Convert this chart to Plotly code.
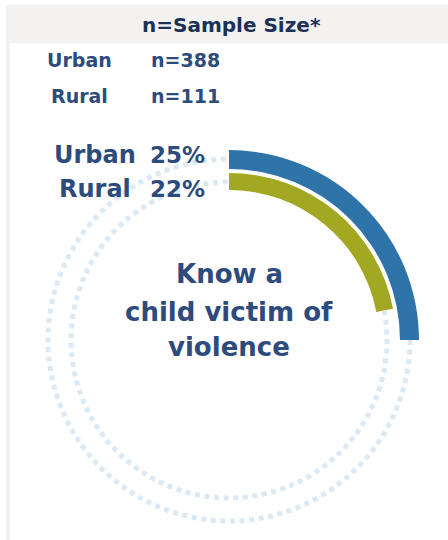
import plotly.graph_objects as go

# ---- data ----
groups = ["Urban", "Rural"]
percents = [25, 22]
sample_sizes = [388, 111]
header = "n=Sample Size*"
center_label = ["Know a", "child victim of", "violence"]

# ---- styles ----
bar_colors = ["#2e74a9", "#a2a822"]
ring_color = "#dbe9f5"
navy = "#1b3158"
navy2 = "#2d4b7c"
bg_gray = "#f3f2f0"
FONT = "DejaVu Sans"

bases = [171, 150]       # inner radius of each arc
thick = [19, 17]         # thickness of each arc
rings = [181, 158]       # dotted ring radii

fig = go.Figure()

# dotted rings (drawn over the part of the circle not covered by the arcs)
for rr, p in zip(rings, percents):
    start = p * 360 / 100
    th = [start + (360 - start) * i / 400 for i in range(401)]
    fig.add_trace(go.Scatterpolar(
        r=[rr] * len(th), theta=th, mode="lines",
        line=dict(color=ring_color, width=5, dash="5px,4.6px"),
        hoverinfo="skip", showlegend=False))

# arcs
for g, p, b, t, c in zip(groups, percents, bases, thick, bar_colors):
    deg = p * 360 / 100
    fig.add_trace(go.Barpolar(
        r=[t], base=[b], theta=[deg / 2], width=[deg],
        marker=dict(color=c, line=dict(width=0)),
        name=g, showlegend=False, hoverinfo="skip"))

fig.update_layout(
    width=448, height=540,
    margin=dict(l=0, r=0, t=0, b=0),
    paper_bgcolor="white",
    plot_bgcolor="white",
    polar=dict(
        domain=dict(x=[29 / 448, 429 / 448], y=[0, 400 / 540]),
        bgcolor="rgba(0,0,0,0)",
        radialaxis=dict(range=[0, 200], visible=False, showgrid=False),
        angularaxis=dict(visible=False, rotation=90, direction="clockwise",
                         showgrid=False),
        barmode="overlay",
    ),
    shapes=[
        dict(type="rect", xref="paper", yref="paper",
             x0=6 / 448, x1=1, y0=1 - 43 / 540, y1=1 - 5 / 540,
             fillcolor=bg_gray, line=dict(width=0), layer="below"),
        dict(type="rect", xref="paper", yref="paper",
             x0=6 / 448, x1=10 / 448, y0=0, y1=1 - 5 / 540,
             fillcolor=bg_gray, line=dict(width=0), layer="below"),
    ],
)


def add(text, x, y, size, color, xanchor="center"):
    return dict(text="<b>%s</b>" % text, x=x / 448, y=1 - y / 540,
                xref="paper", yref="paper", showarrow=False,
                xanchor=xanchor, yanchor="middle",
                font=dict(family=FONT, size=size, color=color))


ann = [add(header, 231, 25, 20, navy)]
for g, n, yy in zip(groups, sample_sizes, [60, 96]):
    ann.append(add(g, 79, yy, 19, navy2))
    ann.append(add("n=%d" % n, 149, yy, 19, navy2, "left"))
for g, p, yy in zip(groups, percents, [155, 189]):
    ann.append(add(g, 95, yy, 24, navy2))
    ann.append(add("%d%%" % p, 177, yy, 23, navy2))
for line, yy in zip(center_label, [274, 312, 347]):
    ann.append(add(line, 229, yy, 26, navy2))
fig.update_layout(annotations=ann)

fig.write_html("out.html", config={"displayModeBar": False},
               post_script="document.body.style.margin='0px';")
